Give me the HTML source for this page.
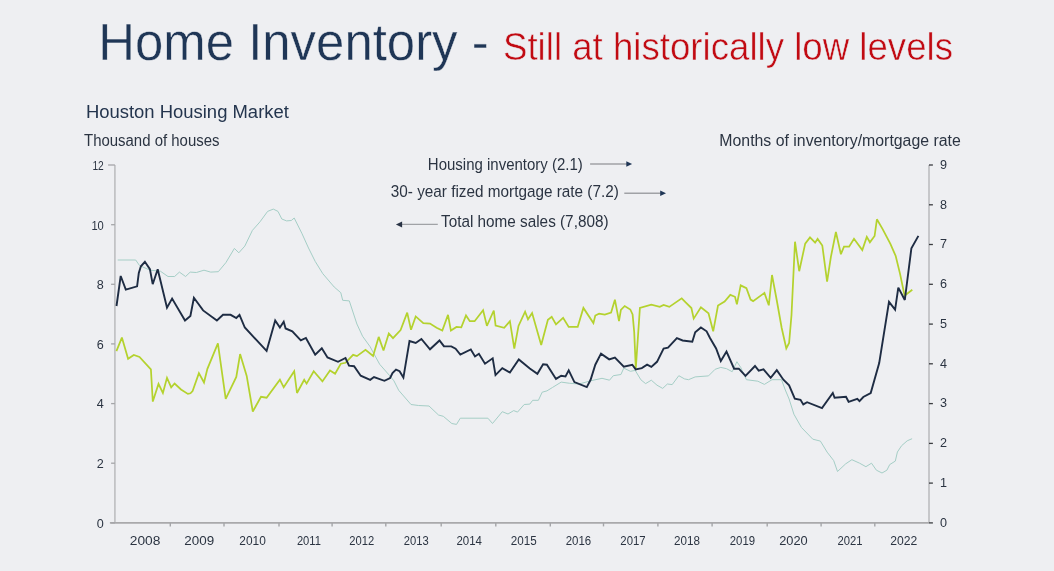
<!DOCTYPE html>
<html><head><meta charset="utf-8"><title>Home Inventory</title>
<style>
html,body{margin:0;padding:0;background:#eeeff2;}
body{width:1054px;height:571px;overflow:hidden;}
svg{display:block;}
text{font-family:'Liberation Sans', sans-serif;}
</style></head><body>
<svg width="1054" height="571" viewBox="0 0 1054 571">
<rect width="1054" height="571" fill="#eeeff2"/>

<text x="98.2" y="59.8" font-size="51" fill="#1f3656" stroke="#eeeff2" stroke-width="0.4" textLength="390.5" lengthAdjust="spacingAndGlyphs">Home Inventory -</text>
<text x="503" y="59.8" font-size="38.5" fill="#c10a12" stroke="#eeeff2" stroke-width="0.5" textLength="450" lengthAdjust="spacingAndGlyphs">Still at historically low levels</text>
<text x="85.9" y="117.9" font-size="18.3" fill="#24354e" textLength="203" lengthAdjust="spacingAndGlyphs">Houston Housing Market</text>
<text transform="translate(84,145.7) scale(1,1.08)" x="0" y="0" font-size="15" fill="#2b3442" textLength="135.5" lengthAdjust="spacingAndGlyphs">Thousand of houses</text>
<text transform="translate(719.3,145.7) scale(1,1.08)" x="0" y="0" font-size="15" fill="#2b3442" textLength="241.5" lengthAdjust="spacingAndGlyphs">Months of inventory/mortgage rate</text>
<text transform="translate(427.8,169.7) scale(1,1.04)" x="0" y="0" font-size="15.5" fill="#2b3442" textLength="155" lengthAdjust="spacingAndGlyphs">Housing inventory (2.1)</text>
<text transform="translate(390.8,196.8) scale(1,1.04)" x="0" y="0" font-size="15.5" fill="#2b3442" textLength="228" lengthAdjust="spacingAndGlyphs">30- year fized mortgage rate (7.2)</text>
<text transform="translate(441.0,226.9) scale(1,1.04)" x="0" y="0" font-size="15.5" fill="#2b3442" textLength="167.5" lengthAdjust="spacingAndGlyphs">Total home sales (7,808)</text>
<line x1="590.1" y1="164" x2="627.1" y2="164" stroke="#a0a2a6" stroke-width="1.4"/><polygon points="632.1,164.0 626.3,161.3 626.3,166.7" fill="#1f3656"/>
<line x1="624.3" y1="193.2" x2="661" y2="193.2" stroke="#a0a2a6" stroke-width="1.4"/><polygon points="666.0,193.2 660.2,190.5 660.2,195.9" fill="#1f3656"/>
<line x1="400.9" y1="224.4" x2="437.8" y2="224.4" stroke="#a0a2a6" stroke-width="1.4"/><polygon points="395.9,224.4 402.1,221.4 402.1,227.4" fill="#283244"/>
<g fill="none">
<line x1="114.9" y1="165.0" x2="114.9" y2="522.9" stroke="#bfc0c3" stroke-width="1.7"/>
<line x1="929.0" y1="165.0" x2="929.0" y2="522.9" stroke="#bfc0c3" stroke-width="1.7"/>
<line x1="109.9" y1="522.9" x2="929.0" y2="522.9" stroke="#a9a9ab" stroke-width="1.9"/>
<line x1="108.1" y1="165.0" x2="114.9" y2="165.0" stroke="#a4a5a8" stroke-width="1.3"/>
<line x1="111.1" y1="224.7" x2="114.9" y2="224.7" stroke="#a4a5a8" stroke-width="1.3"/>
<line x1="111.1" y1="284.3" x2="114.9" y2="284.3" stroke="#a4a5a8" stroke-width="1.3"/>
<line x1="111.1" y1="343.9" x2="114.9" y2="343.9" stroke="#a4a5a8" stroke-width="1.3"/>
<line x1="111.1" y1="403.6" x2="114.9" y2="403.6" stroke="#a4a5a8" stroke-width="1.3"/>
<line x1="111.1" y1="463.2" x2="114.9" y2="463.2" stroke="#a4a5a8" stroke-width="1.3"/>
<line x1="111.1" y1="522.9" x2="114.9" y2="522.9" stroke="#a4a5a8" stroke-width="1.3"/>
<line x1="929.0" y1="165.0" x2="932.9" y2="165.0" stroke="#3a3c40" stroke-width="1.3"/>
<line x1="929.0" y1="204.8" x2="932.9" y2="204.8" stroke="#3a3c40" stroke-width="1.3"/>
<line x1="929.0" y1="244.5" x2="932.9" y2="244.5" stroke="#3a3c40" stroke-width="1.3"/>
<line x1="929.0" y1="284.3" x2="932.9" y2="284.3" stroke="#3a3c40" stroke-width="1.3"/>
<line x1="929.0" y1="324.1" x2="932.9" y2="324.1" stroke="#3a3c40" stroke-width="1.3"/>
<line x1="929.0" y1="363.8" x2="932.9" y2="363.8" stroke="#3a3c40" stroke-width="1.3"/>
<line x1="929.0" y1="403.6" x2="932.9" y2="403.6" stroke="#3a3c40" stroke-width="1.3"/>
<line x1="929.0" y1="443.4" x2="932.9" y2="443.4" stroke="#3a3c40" stroke-width="1.3"/>
<line x1="929.0" y1="483.1" x2="932.9" y2="483.1" stroke="#3a3c40" stroke-width="1.3"/>
<line x1="929.0" y1="522.9" x2="932.9" y2="522.9" stroke="#3a3c40" stroke-width="1.3"/>
<line x1="170.3" y1="522.9" x2="170.3" y2="526.4" stroke="#a4a5a8" stroke-width="1.4"/>
<line x1="224.0" y1="522.9" x2="224.0" y2="526.4" stroke="#a4a5a8" stroke-width="1.4"/>
<line x1="279.0" y1="522.9" x2="279.0" y2="526.4" stroke="#a4a5a8" stroke-width="1.4"/>
<line x1="332.1" y1="522.9" x2="332.1" y2="526.4" stroke="#a4a5a8" stroke-width="1.4"/>
<line x1="385.8" y1="522.9" x2="385.8" y2="526.4" stroke="#a4a5a8" stroke-width="1.4"/>
<line x1="441.2" y1="522.9" x2="441.2" y2="526.4" stroke="#a4a5a8" stroke-width="1.4"/>
<line x1="495.8" y1="522.9" x2="495.8" y2="526.4" stroke="#a4a5a8" stroke-width="1.4"/>
<line x1="550.3" y1="522.9" x2="550.3" y2="526.4" stroke="#a4a5a8" stroke-width="1.4"/>
<line x1="603.5" y1="522.9" x2="603.5" y2="526.4" stroke="#a4a5a8" stroke-width="1.4"/>
<line x1="657.9" y1="522.9" x2="657.9" y2="526.4" stroke="#a4a5a8" stroke-width="1.4"/>
<line x1="712.1" y1="522.9" x2="712.1" y2="526.4" stroke="#a4a5a8" stroke-width="1.4"/>
<line x1="767.2" y1="522.9" x2="767.2" y2="526.4" stroke="#a4a5a8" stroke-width="1.4"/>
<line x1="821.1" y1="522.9" x2="821.1" y2="526.4" stroke="#a4a5a8" stroke-width="1.4"/>
<line x1="874.8" y1="522.9" x2="874.8" y2="526.4" stroke="#a4a5a8" stroke-width="1.4"/>
</g>
<g font-size="12" fill="#2b3442">
<text x="103.8" y="169.8" text-anchor="end" font-size="12.6" textLength="11.4" lengthAdjust="spacingAndGlyphs">12</text>
<text x="103.8" y="229.5" text-anchor="end" font-size="12.6" textLength="12.4" lengthAdjust="spacingAndGlyphs">10</text>
<text x="103.8" y="289.1" text-anchor="end" font-size="12.6">8</text>
<text x="103.8" y="348.7" text-anchor="end" font-size="12.6">6</text>
<text x="103.8" y="408.4" text-anchor="end" font-size="12.6">4</text>
<text x="103.8" y="468.1" text-anchor="end" font-size="12.6">2</text>
<text x="103.8" y="527.7" text-anchor="end" font-size="12.6">0</text>
<text x="940.0" y="168.8" font-size="12.6">9</text>
<text x="940.0" y="208.6" font-size="12.6">8</text>
<text x="940.0" y="248.3" font-size="12.6">7</text>
<text x="940.0" y="288.1" font-size="12.6">6</text>
<text x="940.0" y="327.9" font-size="12.6">5</text>
<text x="940.0" y="367.6" font-size="12.6">4</text>
<text x="940.0" y="407.4" font-size="12.6">3</text>
<text x="940.0" y="447.2" font-size="12.6">2</text>
<text x="940.0" y="486.9" font-size="12.6">1</text>
<text x="940.0" y="526.7" font-size="12.6">0</text>
<text x="145.1" y="545" text-anchor="middle" textLength="30.6" lengthAdjust="spacingAndGlyphs">2008</text>
<text x="199.2" y="545" text-anchor="middle" textLength="29.8" lengthAdjust="spacingAndGlyphs">2009</text>
<text x="252.6" y="545" text-anchor="middle" textLength="26.5" lengthAdjust="spacingAndGlyphs">2010</text>
<text x="308.9" y="545" text-anchor="middle" textLength="24.0" lengthAdjust="spacingAndGlyphs">2011</text>
<text x="361.7" y="545" text-anchor="middle" textLength="24.9" lengthAdjust="spacingAndGlyphs">2012</text>
<text x="416.3" y="545" text-anchor="middle" textLength="24.9" lengthAdjust="spacingAndGlyphs">2013</text>
<text x="469.2" y="545" text-anchor="middle" textLength="25.5" lengthAdjust="spacingAndGlyphs">2014</text>
<text x="523.8" y="545" text-anchor="middle" textLength="25.9" lengthAdjust="spacingAndGlyphs">2015</text>
<text x="578.5" y="545" text-anchor="middle" textLength="25.5" lengthAdjust="spacingAndGlyphs">2016</text>
<text x="633.0" y="545" text-anchor="middle" textLength="25.3" lengthAdjust="spacingAndGlyphs">2017</text>
<text x="687.0" y="545" text-anchor="middle" textLength="25.9" lengthAdjust="spacingAndGlyphs">2018</text>
<text x="742.4" y="545" text-anchor="middle" textLength="25.3" lengthAdjust="spacingAndGlyphs">2019</text>
<text x="793.4" y="545" text-anchor="middle" textLength="28.5" lengthAdjust="spacingAndGlyphs">2020</text>
<text x="849.9" y="545" text-anchor="middle" textLength="25.0" lengthAdjust="spacingAndGlyphs">2021</text>
<text x="903.7" y="545" text-anchor="middle" textLength="27.0" lengthAdjust="spacingAndGlyphs">2022</text>
</g>
<polyline points="117.7,260.0 135.7,260.0 139.5,265.5 150.0,270.2 160.4,271.2 168.0,276.5 174.6,276.5 179.4,272.1 185.6,276.5 190.2,272.1 196.4,272.5 204.0,270.2 210.7,272.1 218.3,271.7 225.9,262.6 234.4,248.4 238.8,252.8 244.8,246.1 252.4,230.4 260.0,221.8 267.6,211.4 273.3,209.1 278.0,211.4 281.8,219.0 286.6,220.9 291.3,220.5 294.2,218.0 301.8,233.2 308.5,248.0 315.2,261.4 322.8,273.7 334.2,287.0 340.8,292.7 342.7,300.3 349.3,300.9 356.9,324.0 362.6,336.3 370.2,346.8 373.1,352.3 379.7,364.3 389.2,375.1 393.9,380.8 398.7,390.3 411.0,404.5 418.6,405.5 429.0,406.0 438.5,415.0 443.3,416.3 451.8,423.5 456.5,424.4 460.3,418.2 487.9,418.2 492.5,423.5 502.3,411.7 508.0,414.0 513.7,410.6 517.5,412.1 524.2,404.5 529.8,404.1 532.7,400.3 538.4,400.3 542.2,392.2 546.9,390.9 552.6,387.4 561.2,382.1 569.7,383.3 579.2,384.0 590.6,380.8 602.0,378.3 609.5,380.2 613.3,375.7 620.9,374.5 623.8,368.1 630.4,371.3 635.2,370.4 640.9,379.8 645.6,383.6 651.3,380.2 657.0,385.2 662.7,388.4 667.4,384.0 672.2,384.6 678.8,375.7 684.5,378.9 688.5,379.7 695.2,376.9 708.5,375.9 715.1,369.3 720.8,367.4 726.5,368.7 732.2,371.7 736.9,361.7 740.7,367.4 746.4,379.7 757.8,381.2 764.4,384.4 772.0,379.7 781.5,379.7 785.3,390.0 789.1,399.0 793.9,414.2 801.4,427.4 812.8,439.2 820.4,441.1 827.1,452.1 833.7,460.6 837.5,471.5 845.6,463.9 851.9,459.7 859.6,463.2 865.9,466.7 871.5,463.2 876.4,470.2 882.0,473.0 886.9,470.2 889.7,464.6 895.3,461.1 897.4,452.0 901.6,445.7 907.2,440.8 912.1,438.7" fill="none" stroke="#a5cec6" stroke-width="1.0" stroke-linejoin="round"/>
<polyline points="116.4,351.2 121.9,337.6 128.1,358.8 133.8,355.0 139.5,356.9 150.9,369.3 152.8,401.6 158.5,383.9 162.9,393.0 167.0,377.8 171.2,387.3 174.6,383.5 181.0,389.5 187.9,393.9 190.5,393.3 192.6,391.1 198.9,373.1 204.0,382.5 207.4,368.8 217.9,343.3 225.7,398.8 236.3,376.9 240.1,354.1 246.7,375.9 252.8,411.5 261.0,396.8 266.6,397.7 279.9,379.7 283.7,387.3 294.2,371.2 297.0,393.0 304.2,379.8 306.6,383.6 313.7,371.3 322.4,381.4 330.0,370.4 335.1,373.8 340.8,363.7 345.5,362.8 353.1,354.8 356.9,356.1 365.5,349.8 373.1,356.0 378.7,336.9 383.5,350.5 388.8,333.5 393.0,338.2 400.6,330.1 407.2,312.6 411.0,329.7 415.7,316.4 423.3,323.1 430.0,323.6 436.6,327.8 442.3,330.6 448.0,314.9 450.9,330.6 456.5,326.9 461.3,327.4 466.0,315.5 469.8,321.2 474.6,321.2 483.1,310.3 486.9,325.9 493.8,310.5 495.6,325.5 504.2,327.8 509.9,321.2 514.3,348.7 518.5,325.9 525.1,311.7 528.0,319.3 532.1,313.0 541.2,344.9 547.9,319.8 551.7,316.8 556.0,324.4 563.1,317.9 568.7,326.9 577.7,326.9 583.4,307.9 593.4,323.1 595.3,315.5 599.1,313.6 604.8,314.5 611.1,312.6 614.9,299.7 619.0,321.2 620.9,309.8 624.7,306.0 630.3,309.5 632.6,314.5 634.2,332.0 635.8,368.5 639.9,307.9 651.3,304.6 659.8,306.9 663.6,305.0 669.3,306.9 681.7,298.4 685.4,302.2 691.4,308.0 693.7,318.6 700.9,307.4 708.5,313.3 713.2,331.3 718.0,305.5 724.6,301.5 730.3,294.9 735.0,296.8 736.9,304.4 740.7,285.4 746.4,288.2 750.6,299.6 753.1,301.1 764.4,293.0 768.8,305.3 772.0,275.0 776.8,300.5 781.7,328.0 786.3,348.4 789.1,343.0 791.5,315.0 795.0,241.7 799.2,271.2 805.2,243.6 810.0,237.4 815.1,242.7 817.6,238.9 822.3,245.5 827.1,281.6 830.9,256.9 835.9,232.0 840.9,254.2 844.0,246.7 849.1,246.7 854.0,238.7 862.3,250.1 866.8,236.9 869.9,242.3 874.6,236.0 876.9,219.3 882.5,228.9 890.4,243.8 895.7,256.0 900.0,273.6 904.6,295.6 912.3,289.7" fill="none" stroke="#b4d22e" stroke-width="1.75" stroke-linejoin="miter" stroke-miterlimit="3"/>
<polyline points="116.5,306.0 120.7,276.0 125.8,289.6 137.1,286.3 138.8,273.0 140.9,266.3 144.9,261.8 149.9,269.2 152.7,284.2 157.7,269.2 167.0,307.6 172.1,298.6 185.0,320.5 190.4,316.0 193.9,297.8 203.1,310.4 216.9,320.5 223.0,314.8 230.6,314.8 236.3,318.0 239.5,314.8 244.8,327.5 266.6,350.9 275.2,320.5 279.9,327.5 283.7,321.8 285.6,328.5 292.3,331.3 300.8,340.4 305.9,338.0 315.2,354.6 321.8,348.2 327.5,357.5 338.0,361.8 345.5,358.0 349.0,365.6 354.1,366.2 360.7,375.7 370.2,379.8 374.0,377.0 384.4,380.8 390.1,378.0 392.5,373.0 396.0,369.6 399.6,371.2 403.4,377.6 409.5,341.0 415.7,343.0 421.4,339.0 430.0,349.3 439.5,340.5 443.9,346.2 451.3,346.4 455.6,348.7 460.3,354.6 470.8,349.5 475.0,356.5 478.9,353.8 485.0,363.7 492.7,358.3 495.5,375.1 502.3,368.1 509.9,372.6 518.8,359.4 529.8,368.5 537.4,373.8 543.1,364.3 546.9,364.7 556.0,378.9 561.2,375.7 565.5,376.4 568.7,370.4 574.4,382.1 586.8,387.1 590.6,379.8 595.3,364.7 601.0,353.6 609.2,359.4 614.9,357.5 623.8,366.6 632.3,364.7 635.7,369.4 641.8,368.1 647.1,364.7 651.3,366.9 657.0,361.8 663.6,348.5 668.0,347.6 676.9,338.2 682.6,340.5 692.3,341.7 695.2,332.3 700.9,327.5 706.6,331.3 710.0,338.0 716.1,348.4 720.8,361.1 726.5,351.6 734.1,368.7 738.8,368.7 745.5,375.9 755.0,366.0 758.7,370.6 763.5,369.3 770.7,377.8 776.8,370.2 783.4,379.7 789.1,385.4 794.8,398.7 800.5,399.8 803.3,404.4 807.1,402.2 822.0,408.1 832.8,393.0 834.6,397.8 846.0,396.8 848.6,401.8 857.3,398.8 859.5,401.2 863.3,397.0 870.7,393.0 879.2,363.1 889.0,301.9 895.1,309.7 898.3,287.6 904.8,300.0 911.4,248.2 918.4,235.9" fill="none" stroke="#1e2c43" stroke-width="1.9" stroke-linejoin="miter" stroke-miterlimit="3"/>
</svg>
</body></html>
